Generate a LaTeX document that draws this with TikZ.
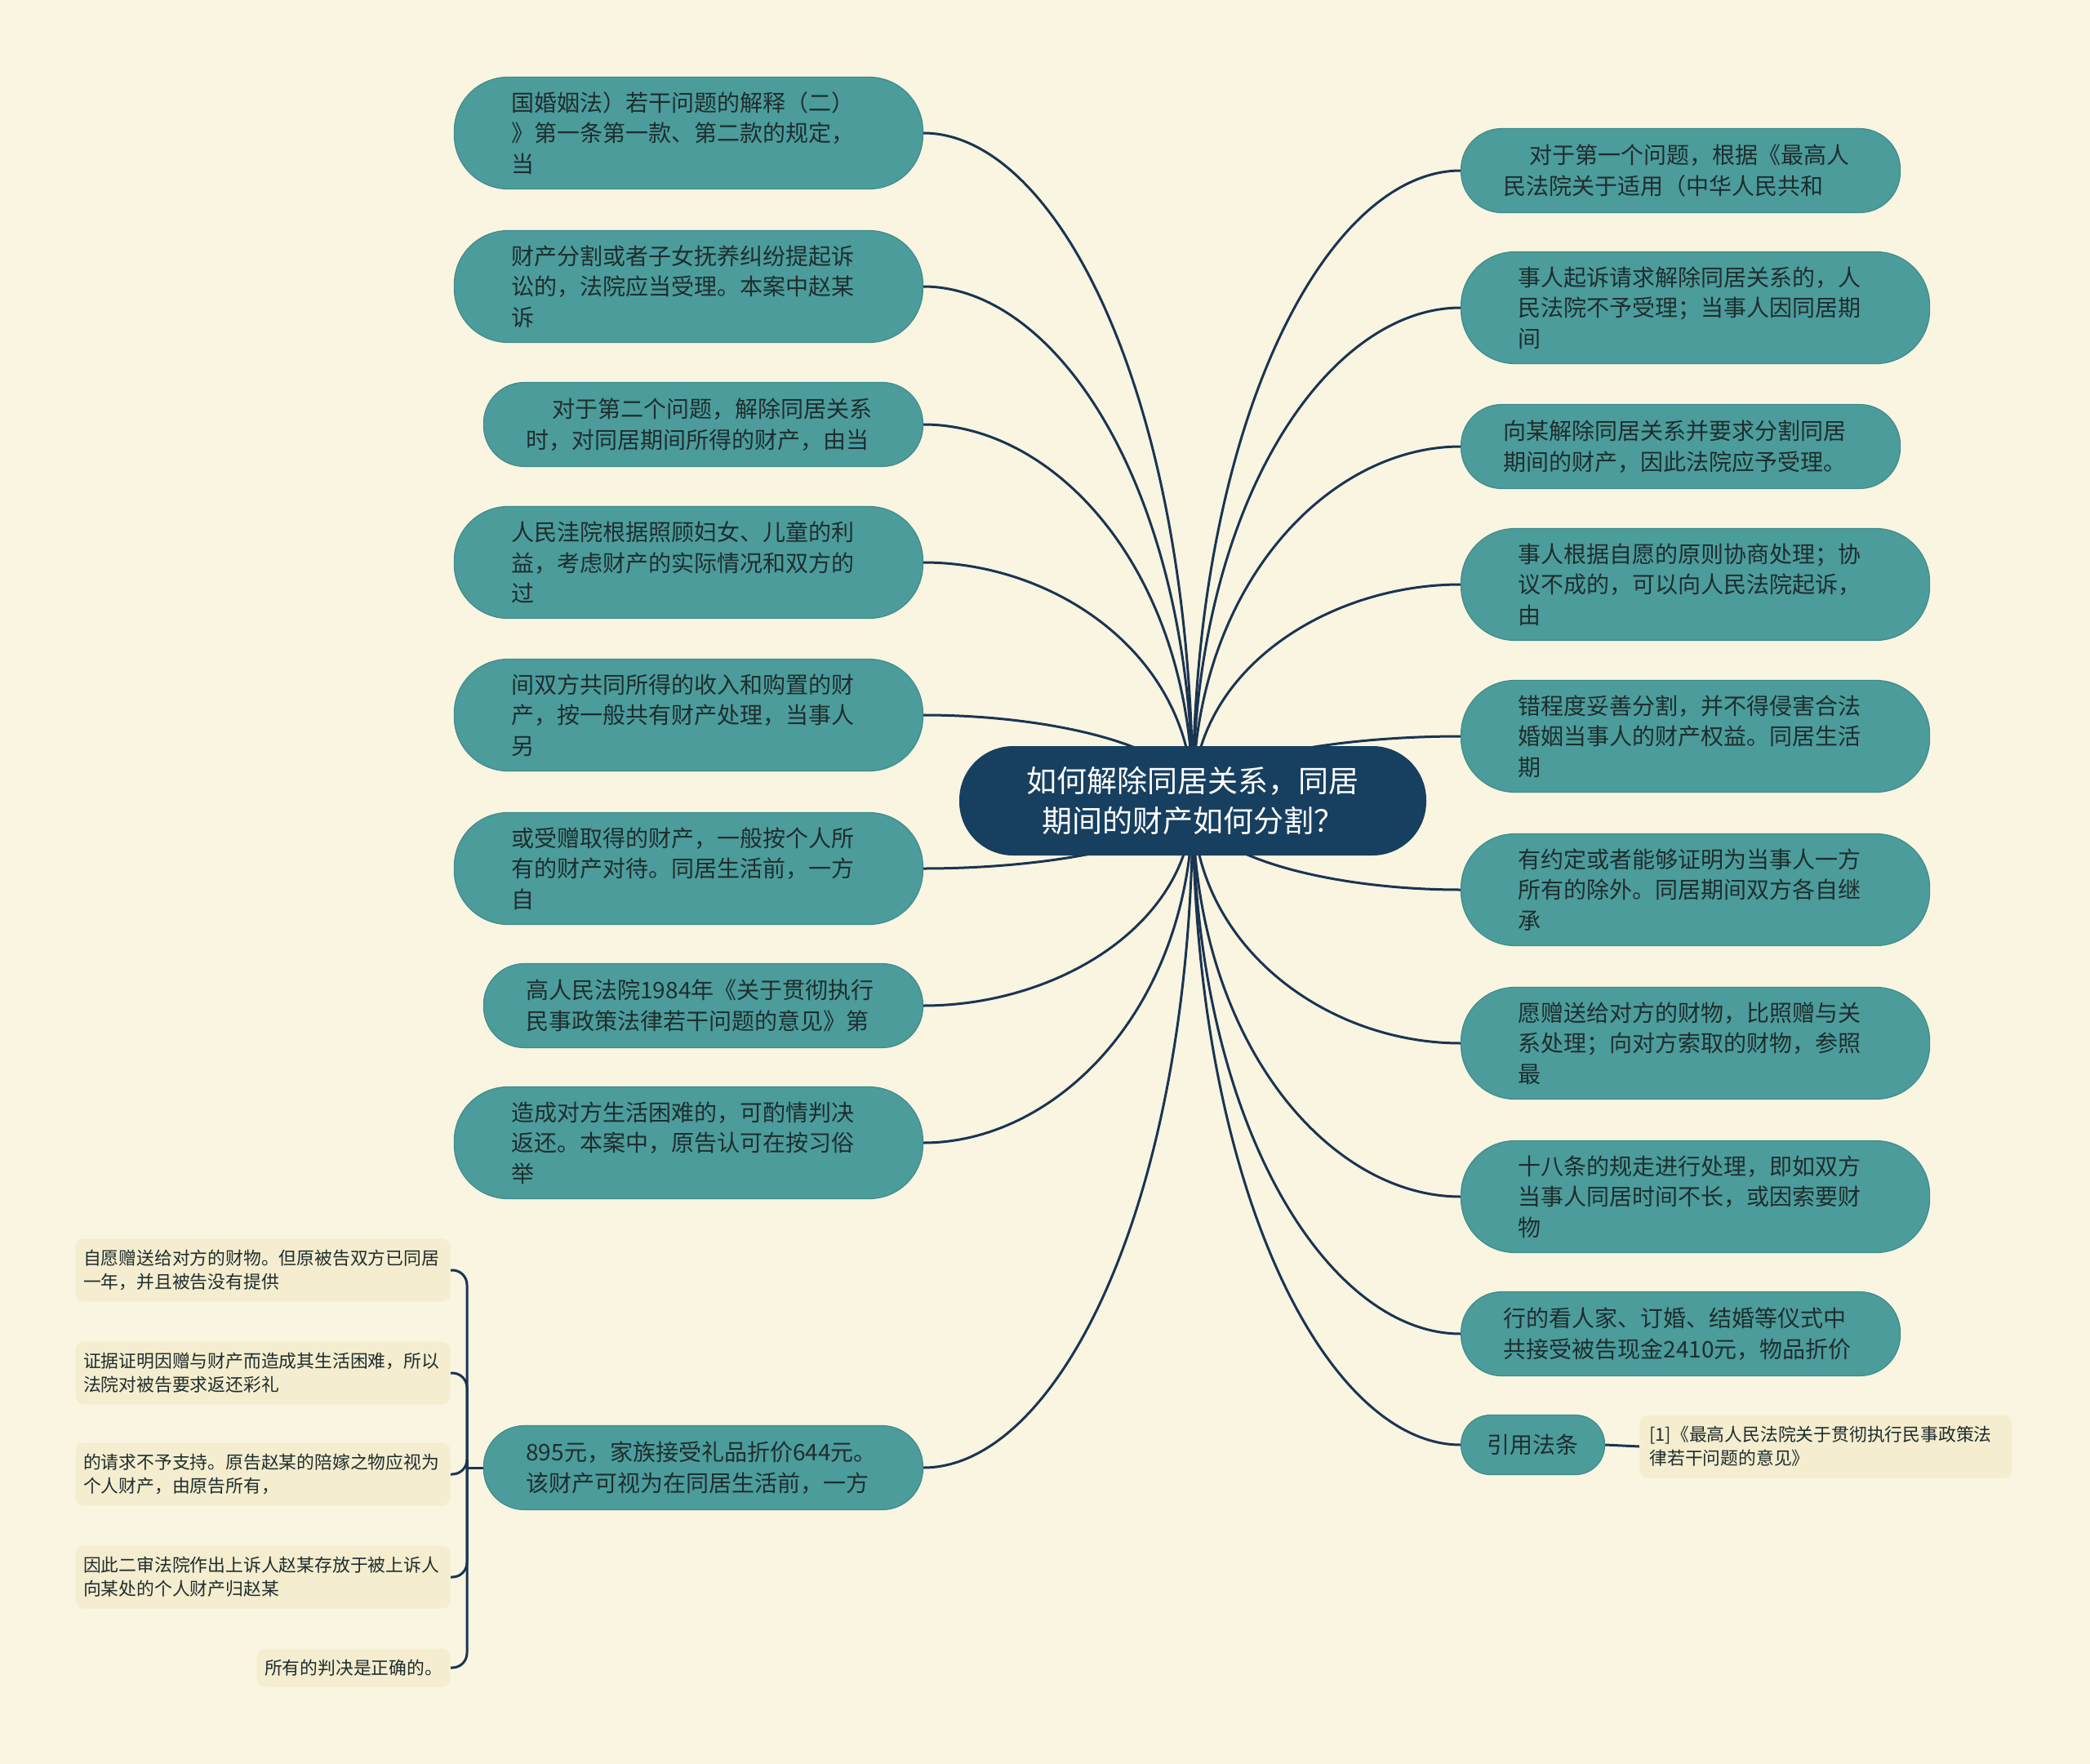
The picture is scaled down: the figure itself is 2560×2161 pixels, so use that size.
\documentclass[tikz,border=0pt]{standalone}
\usepackage{fontspec}
\setmainfont{Noto Sans CJK SC}
\usetikzlibrary{positioning,calc}

\definecolor{paper}{HTML}{F9F5E1}
\definecolor{tealfill}{HTML}{4C9C9C}
\definecolor{tealedge}{HTML}{3F8C8C}
\definecolor{navy}{HTML}{173F5F}
\definecolor{linkcol}{HTML}{1A3552}
\definecolor{ink}{HTML}{1F2D2D}
\definecolor{leaffill}{HTML}{F4EDCF}

\pgfdeclarelayer{back}
\pgfsetlayers{back,main}

\tikzset{
    branch/.style={to path={.. controls ($(\tikztostart)!0.6!(\tikztostart |- \tikztotarget)$) and ($(\tikztotarget)!0.5!(\tikztostart |- \tikztotarget)$) .. (\tikztotarget)}}
}

\begin{document}
\begin{tikzpicture}[
    x=0.5pt, y=-0.5pt,
    topic/.style={rectangle, fill=navy, text=white, rounded corners=33pt, minimum width=286pt, minimum height=67pt, align=center, font=\fontsize{18.5pt}{24.5pt}\selectfont},
    bigbox/.style={rectangle, draw=tealedge, line width=0.6pt, fill=tealfill, rounded corners=33pt, minimum height=68.5pt, text width=217pt, inner xsep=35pt, align=left, text=ink, font=\fontsize{14pt}{18.75pt}\selectfont},
    smallbox/.style={bigbox, rounded corners=25pt, minimum height=51.5pt, inner xsep=26pt},
    tagbox/.style={bigbox, rounded corners=18pt, minimum height=36.5pt, text width=, inner xsep=16pt},
    leaf/.style={rectangle, fill=leaffill, rounded corners=5pt, text=ink, align=left, inner xsep=4.75pt, font=\fontsize{10.9pt}{14.5pt}\selectfont},
    link/.style={draw=linkcol, line width=1.5pt}
]
    \useasboundingbox (0,0) rectangle (2560,2161);

    % Central topic
    \node[topic] (ctr) at (1461,981) {如何解除同居关系，同居\\期间的财产如何分割？};

    % Left side
    \node[bigbox, anchor=east] (l1) at (1131,163) {国婚姻法）若干问题的解释（二）\\》第一条第一款、第二款的规定，\\当};
    \node[bigbox, anchor=east] (l2) at (1131,351) {财产分割或者子女抚养纠纷提起诉\\讼的，法院应当受理。本案中赵某\\诉};
    \node[smallbox, anchor=east] (l3) at (1131,520) {\hspace*{1.15em}对于第二个问题，解除同居关系\\时，对同居期间所得的财产，由当};
    \node[bigbox, anchor=east] (l4) at (1131,689) {人民洼院根据照顾妇女、儿童的利\\益，考虑财产的实际情况和双方的\\过};
    \node[bigbox, anchor=east] (l5) at (1131,876) {间双方共同所得的收入和购置的财\\产，按一般共有财产处理，当事人\\另};
    \node[bigbox, anchor=east] (l6) at (1131,1064) {或受赠取得的财产，一般按个人所\\有的财产对待。同居生活前，一方\\自};
    \node[smallbox, anchor=east] (l7) at (1131,1232) {高人民法院1984年《关于贯彻执行\\民事政策法律若干问题的意见》第};
    \node[bigbox, anchor=east] (l8) at (1131,1400) {造成对方生活困难的，可酌情判决\\返还。本案中，原告认可在按习俗\\举};
    \node[smallbox, anchor=east] (l9) at (1131,1798) {895元，家族接受礼品折价644元。\\该财产可视为在同居生活前，一方};

    % Leaves under l9
    \node[leaf, text width=220pt, minimum height=38.5pt, anchor=east] (b1) at (552,1556) {自愿赠送给对方的财物。但原被告双方已同居\\一年，并且被告没有提供};
    \node[leaf, text width=220pt, minimum height=38.5pt, anchor=east] (b2) at (552,1682) {证据证明因赠与财产而造成其生活困难，所以\\法院对被告要求返还彩礼};
    \node[leaf, text width=220pt, minimum height=38.5pt, anchor=east] (b3) at (552,1806) {的请求不予支持。原告赵某的陪嫁之物应视为\\个人财产，由原告所有，};
    \node[leaf, text width=220pt, minimum height=38.5pt, anchor=east] (b4) at (552,1932) {因此二审法院作出上诉人赵某存放于被上诉人\\向某处的个人财产归赵某};
    \node[leaf, minimum height=23.5pt, anchor=east] (b5) at (552,2043) {所有的判决是正确的。};

    % Right side
    \node[smallbox, anchor=west] (r1) at (1789,209) {\hspace*{1.15em}对于第一个问题，根据《最高人\\民法院关于适用（中华人民共和};
    \node[bigbox, anchor=west] (r2) at (1789,377) {事人起诉请求解除同居关系的，人\\民法院不予受理；当事人因同居期\\间};
    \node[smallbox, anchor=west] (r3) at (1789,547) {向某解除同居关系并要求分割同居\\期间的财产，因此法院应予受理。};
    \node[bigbox, anchor=west] (r4) at (1789,716) {事人根据自愿的原则协商处理；协\\议不成的，可以向人民法院起诉，\\由};
    \node[bigbox, anchor=west] (r5) at (1789,902) {错程度妥善分割，并不得侵害合法\\婚姻当事人的财产权益。同居生活\\期};
    \node[bigbox, anchor=west] (r6) at (1789,1090) {有约定或者能够证明为当事人一方\\所有的除外。同居期间双方各自继\\承};
    \node[bigbox, anchor=west] (r7) at (1789,1278) {愿赠送给对方的财物，比照赠与关\\系处理；向对方索取的财物，参照\\最};
    \node[bigbox, anchor=west] (r8) at (1789,1466) {十八条的规走进行处理，即如双方\\当事人同居时间不长，或因索要财\\物};
    \node[smallbox, anchor=west] (r9) at (1789,1634) {行的看人家、订婚、结婚等仪式中\\共接受被告现金2410元，物品折价};
    \node[tagbox, anchor=west] (r10) at (1789,1770) {引用法条};
    \node[leaf, text width=216pt, minimum height=38.5pt, inner xsep=6pt, anchor=west] (cite) at (2008,1772) {[1]《最高人民法院关于贯彻执行民事政策法\\律若干问题的意见》};

    % Connections (behind the boxes)
    \begin{pgfonlayer}{back}
    \fill[paper] (0,0) rectangle (2560,2161);
    \foreach \n in {l1,l2,l3,l4,l5,l6,l7,l8,l9}
        \draw[link] (ctr.center) to[branch] (\n.east);
    \foreach \n in {r1,r2,r3,r4,r5,r6,r7,r8,r9,r10}
        \draw[link] (ctr.center) to[branch] (\n.west);
    \draw[link] (r10.east) -- (cite.west);
    \coordinate (brace) at (572,1798);
    \draw[link] (l9.west) -- (brace);
    \foreach \n in {b1,b2,b3,b4,b5}
        \draw[link, rounded corners=9pt] (brace) |- (\n.east);
    \end{pgfonlayer}
\end{tikzpicture}
\end{document}
